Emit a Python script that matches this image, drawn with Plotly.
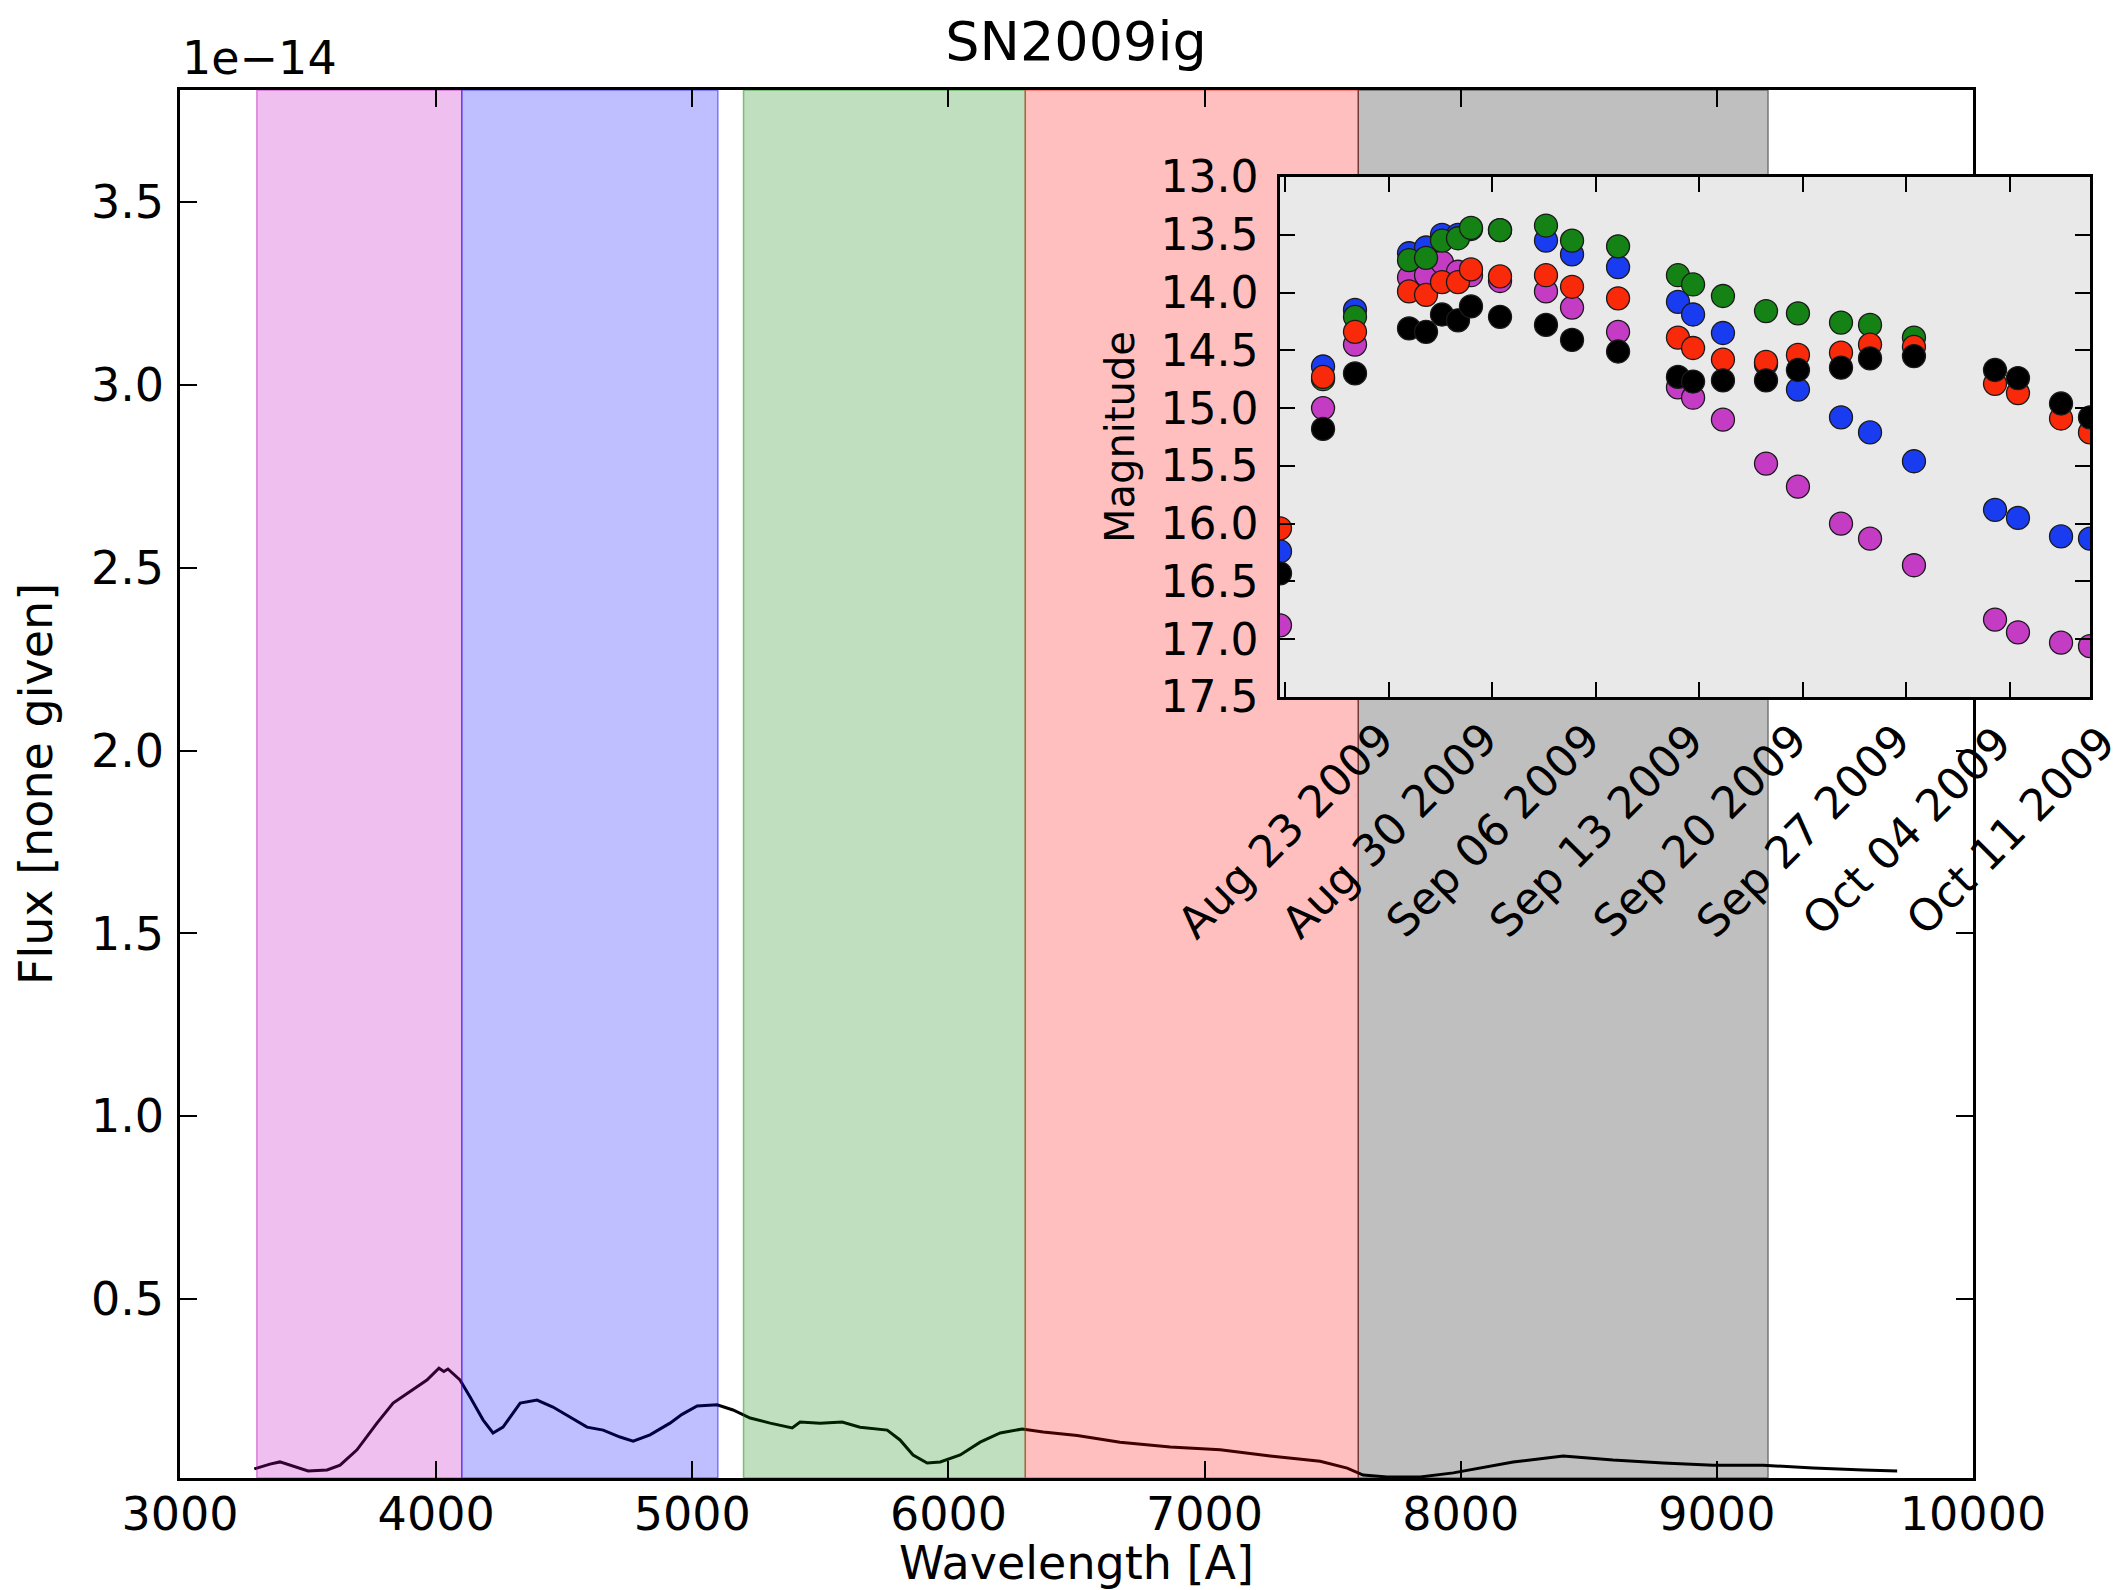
import plotly.graph_objects as go

# ---------------- spectrum (flux in units of 1e-14) ----------------
wavelength = [3290, 3351, 3390, 3441, 3500, 3574, 3625, 3691, 3769, 3832, 3910, 3964,
              4011, 4030, 4046, 4093, 4132, 4183, 4222, 4261, 4328, 4394, 4456, 4523,
              4589, 4652, 4718, 4769, 4835, 4913, 4960, 5019, 5097, 5159, 5226, 5304,
              5390, 5421, 5499, 5585, 5655, 5761, 5811, 5862, 5917, 5968, 6046, 6124,
              6202, 6288, 6370, 6503, 6670, 6866, 7061, 7256, 7451, 7557, 7619, 7713,
              7842, 7971, 8104, 8205, 8400, 8595, 8791, 8986, 9181, 9376, 9572, 9704]
flux = [0.036, 0.049, 0.055, 0.044, 0.030, 0.033, 0.046, 0.088, 0.161, 0.216, 0.252, 0.279,
        0.311, 0.302, 0.309, 0.279, 0.233, 0.170, 0.134, 0.150, 0.216, 0.224, 0.205, 0.178,
        0.150, 0.142, 0.123, 0.112, 0.129, 0.161, 0.185, 0.208, 0.211, 0.197, 0.175, 0.161,
        0.148, 0.164, 0.161, 0.164, 0.150, 0.142, 0.115, 0.074, 0.052, 0.055, 0.074, 0.109,
        0.134, 0.145, 0.137, 0.127, 0.109, 0.096, 0.088, 0.071, 0.057, 0.038, 0.019, 0.014,
        0.014, 0.025, 0.041, 0.055, 0.071, 0.060, 0.052, 0.046, 0.046, 0.038, 0.033, 0.030]

# filter bandpasses (Angstrom) and their colours
band_lo = [3300, 4100, 5200, 6300, 7600]
band_hi = [4100, 5100, 6300, 7600, 9200]
band_rgb = [(191, 0, 191), (0, 0, 255), (0, 128, 0), (255, 0, 0), (0, 0, 0)]

x_range = [3000, 10000]
y_range = [0.011, 3.806]
x_ticks = [3000, 4000, 5000, 6000, 7000, 8000, 9000, 10000]
y_ticks = [0.5, 1.0, 1.5, 2.0, 2.5, 3.0, 3.5]

# ---------------- light curves ----------------
obs_dates = ["2009-08-22 15:50", "2009-08-25 13:40", "2009-08-27 17:30", "2009-08-31 09:10",
             "2009-09-01 12:45", "2009-09-02 14:40", "2009-09-03 16:35", "2009-09-04 13:40",
             "2009-09-06 12:45", "2009-09-09 15:20", "2009-09-11 09:35", "2009-09-14 12:15",
             "2009-09-18 13:25", "2009-09-19 13:55", "2009-09-21 14:25", "2009-09-24 12:15",
             "2009-09-26 16:05", "2009-09-29 13:55", "2009-10-01 13:00", "2009-10-04 12:15",
             "2009-10-09 23:45", "2009-10-11 13:00", "2009-10-14 10:50", "2009-10-16 09:50"]
mag_U = [16.88, 15.00, 14.45, 13.87, 13.85, 13.74, 13.82, 13.85, 13.90, 13.99, 14.13, 14.34,
         14.82, 14.91, 15.10, 15.48, 15.68, 16.00, 16.13, 16.36, 16.83, 16.94, 17.03, 17.06]
mag_B = [16.24, 14.64, 14.15, 13.66, 13.61, 13.50, 13.50, 13.45, 13.46, 13.55, 13.67, 13.78,
         14.08, 14.19, 14.35, 14.62, 14.84, 15.08, 15.21, 15.46, 15.88, 15.95, 16.11, 16.13]
mag_V = [None, 14.75, 14.21, 13.72, 13.70, 13.55, 13.53, 13.44, 13.46, 13.42, 13.55, 13.60,
         13.85, 13.93, 14.03, 14.16, 14.18, 14.26, 14.28, 14.39, None, None, None, None]
mag_R = [16.04, 14.73, 14.34, 13.99, 14.02, 13.91, 13.91, 13.80, 13.86, 13.85, 13.95, 14.05,
         14.39, 14.48, 14.58, 14.60, 14.54, 14.52, 14.45, 14.47, 14.79, 14.87, 15.09, 15.21]
mag_I = [16.43, 15.18, 14.70, 14.31, 14.34, 14.19, 14.24, 14.12, 14.21, 14.28, 14.41, 14.51,
         14.73, 14.77, 14.76, 14.76, 14.67, 14.65, 14.57, 14.55, 14.67, 14.74, 14.96, 15.08]
lc_series = [mag_U, mag_B, mag_V, mag_R, mag_I]
lc_colors = ["#c43cc4", "#1a3cf0", "#148214", "#f82a0a", "#000000"]

mag_range = [17.5, 13.0]
mag_ticks = [13.0, 13.5, 14.0, 14.5, 15.0, 15.5, 16.0, 16.5, 17.0, 17.5]
date_ticks = ["2009-08-23", "2009-08-30", "2009-09-06", "2009-09-13",
              "2009-09-20", "2009-09-27", "2009-10-04", "2009-10-11"]
date_labels = ["Aug 23 2009", "Aug 30 2009", "Sep 06 2009", "Sep 13 2009",
               "Sep 20 2009", "Sep 27 2009", "Oct 04 2009", "Oct 11 2009"]

# ---------------- layout geometry ----------------
W, H = 2126, 1590
FONT = "DejaVu Sans"


def px_x(p):
    return p / W


def px_y(p):
    return 1 - p / H


fig = go.Figure()

# spectrum
fig.add_trace(go.Scatter(x=wavelength, y=flux, mode="lines",
                         line=dict(color="black", width=3),
                         xaxis="x", yaxis="y", showlegend=False, hoverinfo="skip"))

# translucent bandpass regions on top of the spectrum
for lo, hi, (r, g, b) in zip(band_lo, band_hi, band_rgb):
    fig.add_trace(go.Scatter(
        x=[lo, lo, hi, hi, lo],
        y=[y_range[0], y_range[1], y_range[1], y_range[0], y_range[0]],
        mode="lines", fill="toself",
        fillcolor=f"rgba({r},{g},{b},0.25)",
        line=dict(color=f"rgba({r},{g},{b},0.45)", width=1.5),
        xaxis="x", yaxis="y", showlegend=False, hoverinfo="skip"))

# inset background
d0, d1 = min(obs_dates), max(obs_dates)
fig.add_trace(go.Scatter(
    x=[d0, d0, d1, d1, d0],
    y=[mag_range[0], mag_range[1], mag_range[1], mag_range[0], mag_range[0]],
    mode="lines", fill="toself", fillcolor="#e9e9e9",
    line=dict(color="#e9e9e9", width=0),
    xaxis="x2", yaxis="y2", showlegend=False, hoverinfo="skip"))

# light-curve points
for mags, col in zip(lc_series, lc_colors):
    fig.add_trace(go.Scatter(
        x=obs_dates, y=mags, mode="markers",
        marker=dict(size=23, color=col, line=dict(color="#1a1a1a", width=1.3)),
        cliponaxis=True, xaxis="x2", yaxis="y2", showlegend=False))

axis_common = dict(showline=True, linecolor="black", linewidth=2.5, mirror="ticks",
                   ticks="inside", tickcolor="black", tickwidth=2,
                   showgrid=False, zeroline=False)

fig.update_layout(
    width=W, height=H,
    margin=dict(l=0, r=0, t=0, b=0),
    paper_bgcolor="white", plot_bgcolor="white",
    font=dict(family=FONT, color="black", size=46),
    showlegend=False,
    xaxis=dict(domain=[px_x(180), px_x(1973)], range=x_range, anchor="y",
               tickvals=x_ticks, ticktext=[str(v) for v in x_ticks], ticklen=17,
               tickfont=dict(size=46), ticklabelstandoff=-6,
               title=dict(text="Wavelength [A]", font=dict(size=46), standoff=18),
               automargin=False, **axis_common),
    yaxis=dict(domain=[px_y(1478), px_y(90)], range=y_range, anchor="x",
               tickvals=y_ticks, ticktext=[f"{v:.1f}" for v in y_ticks], ticklen=17,
               tickfont=dict(size=46), ticklabelstandoff=4,
               title=dict(text="Flux [none given]", font=dict(size=46), standoff=24),
               automargin=False, **axis_common),
    xaxis2=dict(domain=[px_x(1280), px_x(2090)], type="date", range=[d0, d1], anchor="y2",
                tickvals=date_ticks, showticklabels=False, ticklen=15,
                automargin=False, **axis_common),
    yaxis2=dict(domain=[px_y(697), px_y(177)], range=mag_range, anchor="x2",
                tickvals=mag_ticks, ticktext=[f"{v:.1f}" for v in mag_ticks], ticklen=15,
                tickfont=dict(size=44), ticklabelstandoff=10,
                title=dict(text="Magnitude", font=dict(size=40), standoff=14),
                automargin=False, **axis_common),
    title=dict(text="SN2009ig", x=px_x(1076), xanchor="center",
               y=px_y(41), yanchor="middle", font=dict(size=54)),
)

# rotated date labels, centred under each inset tick
for d, lab in zip(date_ticks, date_labels):
    fig.add_annotation(x=d, y=px_y(830), xref="x2", yref="paper", text=lab,
                       textangle=-45, showarrow=False, xanchor="center", yanchor="middle",
                       font=dict(size=44, family=FONT, color="black"))

# axis offset text
fig.add_annotation(x=px_x(180), y=px_y(58), xref="paper", yref="paper", text="1e\u221214",
                   showarrow=False, xanchor="left", yanchor="middle",
                   font=dict(size=46, family=FONT, color="black"))

fig.write_html("out.html")
